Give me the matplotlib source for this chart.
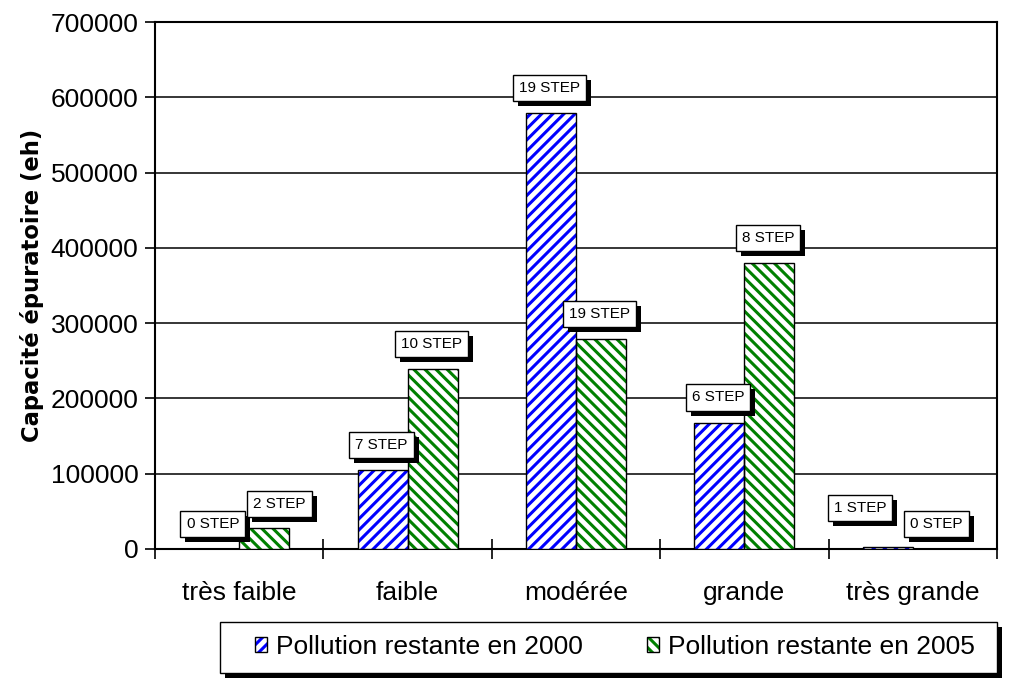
import matplotlib
matplotlib.use("Agg")
import matplotlib.pyplot as plt
import numpy as np
from matplotlib.patches import Rectangle
from matplotlib.legend_handler import HandlerTuple

# Data
categories = ["très faible", "faible", "modérée", "grande", "très grande"]
pollution_2000 = [0, 105000, 579000, 168000, 3000]
pollution_2005 = [28000, 239000, 279000, 380000, 0]
stations_2000 = [0, 7, 19, 6, 1]
stations_2005 = [2, 10, 19, 8, 0]
series_names = ["Pollution restante en 2000", "Pollution restante en 2005"]
y_ticks = [0, 100000, 200000, 300000, 400000, 500000, 600000, 700000]
y_title = "Capacité épuratoire (eh)"

plt.rcParams['font.family'] = ['Liberation Sans', 'DejaVu Sans']
plt.rcParams['hatch.linewidth'] = 2.2

BLUE = "#0000ff"
GREEN = "#008000"
W, H = 1014, 679
SHADOW = 5  # drop-shadow offset in pixels

fig = plt.figure(figsize=(W / 100, H / 100), dpi=100)
ax = fig.add_axes([155 / W, 1 - 549 / H, 842 / W, 527 / H])

x = np.arange(len(categories))
w = 0.297

# hatched fill, then a black outline on top
ax.bar(x - w / 2, pollution_2000, w, facecolor="white", edgecolor=BLUE,
       hatch="///", linewidth=0, zorder=3)
ax.bar(x - w / 2, pollution_2000, w, fill=False, edgecolor="black",
       linewidth=1, zorder=4)
ax.bar(x + w / 2, pollution_2005, w, facecolor="white", edgecolor=GREEN,
       hatch="\\\\\\", linewidth=0, zorder=3)
ax.bar(x + w / 2, pollution_2005, w, fill=False, edgecolor="black",
       linewidth=1, zorder=4)

ax.set_xlim(-0.5, len(categories) - 0.5)
ax.set_ylim(0, 700000)
ax.set_yticks(y_ticks)
ax.set_yticklabels([str(v) for v in y_ticks], fontsize=19)
ax.set_xticks(x)
ax.set_xticklabels(categories, fontsize=19)
ax.set_xticks(np.arange(len(categories) + 1) - 0.5, minor=True)
ax.tick_params(axis="x", which="major", length=0, pad=23)
ax.tick_params(axis="x", which="minor", direction="inout", length=14, width=1.2)
ax.tick_params(axis="y", which="major", direction="out", length=7, width=1.2, pad=5)
ax.grid(axis="y", color="black", linewidth=1.1, zorder=1)
ax.set_axisbelow(True)
for s in ax.spines.values():
    s.set_linewidth(1.5)
    s.set_color("black")
ax.set_ylabel(y_title, fontsize=16.3, fontweight="bold",
              family=["DejaVu Sans"])
ax.yaxis.set_label_coords((44 - 155) / 842, 0.5)

# Station-count labels in white boxes
labels = []


def step_label(xc, yv, n, nudge=(0, 0)):
    dx, dy = -1 + nudge[0], 13 + nudge[1]
    ann = ax.annotate(f"{n} STEP", xy=(xc, yv), xytext=(dx, dy),
                      textcoords="offset points", ha="center", va="bottom",
                      fontsize=11, color="black", annotation_clip=False,
                      bbox=dict(boxstyle="square,pad=0.4", fc="white",
                                ec="black", lw=1),
                      zorder=7)
    labels.append(ann)


# shift a few labels sideways so neighbouring boxes do not collide
nudges = {(0, 1): (12, -1), (4, 0): (-19, 10)}
for i in range(len(categories)):
    step_label(x[i] - w / 2, pollution_2000[i], stations_2000[i], nudges.get((i, 0), (0, 0)))
    step_label(x[i] + w / 2, pollution_2005[i], stations_2005[i], nudges.get((i, 1), (0, 0)))

# Legend box with drop shadow
box_x0, box_x1, box_y0, box_y1 = 220, 997, 622, 673
fig.patches.append(Rectangle(((box_x0 + SHADOW) / W, 1 - (box_y1 + SHADOW) / H),
                             (box_x1 - box_x0) / W, (box_y1 - box_y0) / H,
                             transform=fig.transFigure, facecolor="black",
                             edgecolor="none", zorder=1))
fig.patches.append(Rectangle((box_x0 / W, 1 - box_y1 / H),
                             (box_x1 - box_x0) / W, (box_y1 - box_y0) / H,
                             transform=fig.transFigure, facecolor="white",
                             edgecolor="black", linewidth=1, zorder=2))

h1 = (Rectangle((0, 0), 1, 1, facecolor="white", edgecolor=BLUE, hatch="///", linewidth=0),
      Rectangle((0, 0), 1, 1, fill=False, edgecolor="black", linewidth=1))
h2 = (Rectangle((0, 0), 1, 1, facecolor="white", edgecolor=GREEN, hatch="\\\\\\", linewidth=0),
      Rectangle((0, 0), 1, 1, fill=False, edgecolor="black", linewidth=1))
leg = fig.legend([h1, h2], series_names, loc="center",
                 bbox_to_anchor=(615 / W, 1 - 647 / H), ncol=2,
                 fontsize=19, frameon=False,
                 handlelength=0.45, handleheight=0.5, handletextpad=0.35,
                 columnspacing=2.4, borderpad=0, borderaxespad=0,
                 handler_map={tuple: HandlerTuple(ndivide=1, pad=0)})
leg.set_zorder(5)

# black drop shadows behind the label boxes (measured after layout)
fig.canvas.draw()
for ann in labels:
    ext = ann.get_bbox_patch().get_window_extent()
    shadow = Rectangle(((ext.x0 + SHADOW) / W, (ext.y0 - SHADOW) / H),
                       ext.width / W, ext.height / H,
                       transform=fig.transFigure, facecolor="black",
                       edgecolor="none", zorder=6, clip_on=False)
    ax.add_artist(shadow)

fig.savefig("out.png", dpi=100)
